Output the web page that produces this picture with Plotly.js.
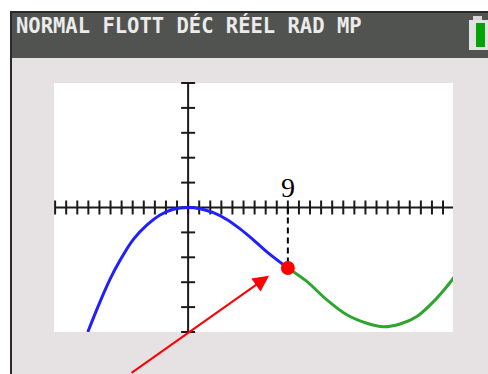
<!DOCTYPE html>
<html>
<head>
<meta charset="utf-8">
<script src="https://cdn.plot.ly/plotly-3.0.1.min.js"></script>
<style>
  html, body { margin: 0; padding: 0; background: #ffffff; }
  #graph { width: 488px; height: 374px; }
</style>
</head>
<body>
<div id="graph"></div>
<script>
// Curve before the marked point (blue) and after it (green)
const blueX = [-9.05, -8.1, -7.04, -6.14, -4.94, -3.73, -2.53, -1.33, 0, 1.08, 2.28, 3.49, 4.69, 5.89, 7.3, 9];
const blueY = [-5.0, -3.95, -2.88, -2.12, -1.28, -0.71, -0.3, -0.07, 0, -0.05, -0.21, -0.48, -0.86, -1.3, -1.85, -2.43];
const greenX = [9, 10.71, 12.52, 14.32, 16.13, 17.63, 19.13, 20.64, 22.14, 23.35, 24];
const greenY = [-2.43, -2.97, -3.71, -4.31, -4.65, -4.79, -4.68, -4.38, -3.78, -3.17, -2.8];

// Marked point and its label
const pointX = 9;
const pointY = -2.43;
const pointLabel = '9';

// Calculator window: tick marks every unit
const xTicks = [];
for (let i = -12; i <= 24; i++) xTicks.push(i);
const yTicks = [];
for (let i = -5; i <= 5; i++) yTicks.push(i);

const statusText = 'NORMAL FLOTT DÉC RÉEL RAD MP';

// pixel -> paper helpers for the decorations around the plot area
const L = 54, T = 83, W = 399, H = 249;
const px = v => (v - L) / W;
const py = v => (T + H - v) / H;

const traces = [
  { // x axis with crossing ticks
    x: xTicks, y: xTicks.map(() => 0), mode: 'lines+markers',
    line: { color: '#1a1a1a', width: 2 },
    marker: { symbol: 'line-ns-open', size: 10, line: { color: '#1a1a1a', width: 2 } },
    hoverinfo: 'skip', cliponaxis: false
  },
  { // y axis with crossing ticks
    x: yTicks.map(() => 0), y: yTicks, mode: 'lines+markers',
    line: { color: '#1a1a1a', width: 2 },
    marker: { symbol: 'line-ew-open', size: 10, line: { color: '#1a1a1a', width: 2 } },
    hoverinfo: 'skip', cliponaxis: false
  },
  {
    x: blueX, y: blueY, mode: 'lines',
    line: { color: '#1f1fff', width: 3, shape: 'spline', smoothing: 0.8 }
  },
  {
    x: greenX, y: greenY, mode: 'lines',
    line: { color: '#2ea52e', width: 3, shape: 'spline', smoothing: 0.8 }
  },
  { // dashed drop line from the axis to the point
    x: [pointX, pointX], y: [0, pointY], mode: 'lines',
    line: { color: '#000000', width: 2, dash: '6px,4px' }
  },
  {
    x: [pointX], y: [pointY], mode: 'markers',
    marker: { color: '#ff0000', size: 14 }
  }
];

const rect = (x0, x1, y0, y1, color) => ({
  type: 'rect', xref: 'paper', yref: 'paper',
  x0: px(x0), x1: px(x1), y0: py(y1), y1: py(y0),
  fillcolor: color, line: { width: 0 }
});

const layout = {
  width: 488, height: 374,
  margin: { l: L, r: 488 - L - W, t: T, b: 374 - T - H, pad: 0 },
  paper_bgcolor: '#e6e2e4',
  plot_bgcolor: '#ffffff',
  showlegend: false,
  xaxis: { range: [-12.1, 23.9], showgrid: false, zeroline: false, showticklabels: false, ticks: '', showline: false, fixedrange: true },
  yaxis: { range: [-5, 5], showgrid: false, zeroline: false, showticklabels: false, ticks: '', showline: false, fixedrange: true },
  shapes: [
    rect(0, 10, 0, 374, '#ffffff'),
    rect(0, 488, 0, 11, '#ffffff'),
    rect(10, 12, 11, 374, '#2a2a2a'),
    rect(10, 488, 11, 13, '#2a2a2a'),
    rect(12, 488, 13, 58, '#515351'),
    // battery
    rect(473, 482, 16, 21, '#d6d6d6'),
    rect(469, 492, 20, 50, '#e2e2e2'),
    rect(476, 485, 23, 47, '#05a305')
  ],
  annotations: [
    {
      xref: 'paper', yref: 'paper', x: px(14), y: py(25),
      xanchor: 'left', yanchor: 'middle', showarrow: false,
      text: '<b>' + statusText + '</b>',
      font: { family: 'DejaVu Sans Mono', size: 20.5, color: '#ebebeb' }
    },
    {
      x: pointX, y: 0, xref: 'x', yref: 'y', showarrow: false,
      yanchor: 'bottom', yshift: 3,
      text: pointLabel,
      font: { family: 'Liberation Serif', size: 28, color: '#000000' }
    },
    {
      x: 7.3, y: -2.74, xref: 'x', yref: 'y',
      ax: -139, ay: 100, axref: 'pixel', ayref: 'pixel',
      text: '', showarrow: true,
      arrowcolor: '#ff0000', arrowwidth: 2, arrowhead: 2, arrowsize: 1.6
    }
  ]
};

Plotly.newPlot('graph', traces, layout, { displayModeBar: false, staticPlot: true });
</script>
</body>
</html>
